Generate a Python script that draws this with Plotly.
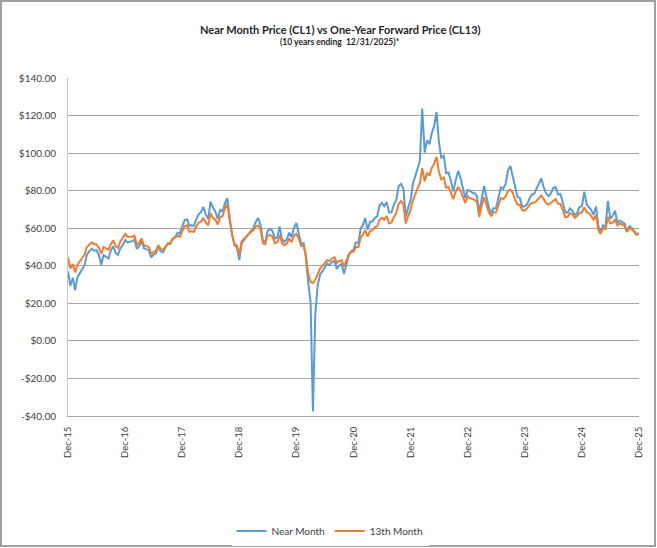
import calendar
from datetime import date

import plotly.graph_objects as go

# Semi-monthly observation dates: 15th and month end, Dec-2015 to Dec-2025
dates = [date(2015, 12, 31)]
for yr in range(2016, 2026):
    for mo in range(1, 13):
        dates.append(date(yr, mo, 15))
        dates.append(date(yr, mo, calendar.monthrange(yr, mo)[1]))

# Near month (CL1)
near_month = [
    37.0,
    # 2016
    29.4, 33.6, 27.0, 33.8, 36.3, 38.3, 40.4, 45.9, 47.7, 49.1, 48.0, 48.3,
    45.9, 40.5, 45.7, 44.7, 43.9, 48.2, 50.4, 46.9, 45.8, 49.4, 51.0, 53.7,
    # 2017
    52.4, 52.8, 53.1, 54.0, 48.9, 50.6, 53.2, 49.3, 48.8, 48.3, 44.5, 46.0,
    46.5, 50.2, 47.6, 47.2, 49.9, 51.7, 51.5, 54.4, 55.3, 57.4, 57.3, 60.4,
    # 2018
    64.3, 64.7, 61.3, 61.6, 61.2, 64.9, 67.4, 68.6, 71.3, 67.0, 65.1, 74.2,
    71.0, 68.8, 65.0, 69.8, 69.0, 73.3, 76.0, 65.3, 56.5, 50.9, 49.9, 43.0,
    # 2019
    52.1, 53.8, 55.6, 57.2, 58.5, 60.1, 63.4, 65.5, 62.0, 53.5, 52.5, 58.5,
    59.6, 58.6, 54.5, 55.1, 61.0, 54.1, 52.8, 54.2, 57.7, 55.2, 60.1, 62.8,
    # 2020
    57.8, 51.6, 52.1, 44.8, 31.7, 20.5, -37.6, 14.0, 29.4, 35.5, 37.1, 39.3,
    41.2, 40.3, 42.0, 42.6, 38.3, 40.2, 40.9, 35.8, 40.1, 45.3, 47.6, 48.5,
    # 2021
    52.4, 52.2, 60.0, 61.5, 65.4, 59.2, 63.5, 63.6, 65.4, 66.3, 72.1, 73.5,
    71.7, 73.9, 68.4, 68.5, 72.6, 75.0, 82.3, 83.6, 80.9, 66.2, 70.9, 75.2,
    # 2022
    83.8, 88.2, 92.1, 95.7, 123.7, 100.3, 106.9, 104.7, 110.5, 114.7, 121.9, 105.8,
    97.6, 98.6, 89.4, 89.6, 85.1, 79.5, 85.6, 90.5, 86.9, 80.6, 76.1, 80.3,
    # 2023
    79.9, 78.9, 78.6, 77.1, 68.4, 75.7, 82.5, 76.8, 71.1, 68.1, 70.6, 70.6,
    75.4, 81.8, 81.0, 83.6, 90.8, 93.2, 87.7, 81.0, 76.7, 76.0, 71.4, 71.7,
    # 2024
    72.7, 75.9, 78.0, 78.3, 81.0, 83.2, 86.5, 81.9, 78.6, 77.0, 78.5, 81.5,
    81.9, 77.9, 78.2, 73.6, 68.7, 68.2, 70.6, 69.3, 67.0, 68.0, 71.3, 71.7,
    # 2025
    79.5, 72.5, 70.7, 69.8, 67.2, 71.5, 61.3, 58.2, 61.6, 60.8, 74.5, 65.1,
    66.5, 69.3, 62.8, 64.0, 63.3, 62.4, 58.3, 61.0, 60.1, 58.6, 56.8, 57.4,
]

# 13th month (CL13)
month_13 = [
    44.5,
    # 2016
    38.5, 41.0, 36.5, 40.5, 42.5, 44.0, 46.0, 50.0, 51.0, 52.5, 51.5, 51.5,
    49.5, 46.5, 50.0, 49.0, 48.5, 51.5, 53.5, 50.5, 49.5, 53.0, 55.0, 57.0,
    # 2017
    55.5, 55.5, 55.5, 56.0, 51.0, 52.5, 54.5, 51.0, 50.5, 50.0, 46.5, 47.5,
    48.0, 51.0, 49.0, 48.5, 50.5, 52.0, 52.0, 54.5, 55.0, 56.0, 55.5, 58.0,
    # 2018
    61.0, 61.5, 58.0, 58.5, 58.0, 61.0, 63.0, 63.5, 65.5, 63.0, 61.5, 68.0,
    65.5, 64.5, 62.0, 66.0, 66.5, 70.5, 73.0, 64.0, 56.5, 51.5, 51.0, 46.0,
    # 2019
    53.0, 54.5, 55.5, 57.0, 58.0, 59.0, 61.0, 61.5, 59.5, 52.0, 51.5, 56.0,
    56.5, 55.5, 52.0, 52.5, 56.5, 52.0, 51.0, 52.0, 54.5, 52.5, 56.0, 57.0,
    # 2020
    54.5, 50.5, 51.0, 46.0, 36.0, 31.5, 30.7, 32.5, 35.5, 38.5, 40.0, 41.5,
    43.0, 42.5, 44.0, 44.5, 41.5, 42.5, 43.0, 39.5, 42.5, 46.0, 47.5, 47.5,
    # 2021
    50.0, 50.0, 55.0, 56.5, 59.0, 55.5, 58.5, 59.0, 60.5, 61.0, 64.5, 65.5,
    64.5, 66.5, 62.5, 63.0, 66.0, 68.0, 73.0, 74.5, 72.5, 62.5, 66.5, 70.0,
    # 2022
    75.0, 79.0, 81.5, 84.0, 92.0, 85.0, 89.5, 88.0, 92.0, 94.5, 98.0, 90.0,
    86.0, 87.0, 81.5, 82.0, 78.5, 75.5, 79.5, 82.0, 80.0, 76.5, 73.5, 77.0,
    # 2023
    76.0, 75.5, 75.0, 74.0, 66.0, 72.0, 76.5, 72.5, 68.5, 66.5, 68.5, 68.5,
    72.0, 76.0, 75.5, 77.0, 80.0, 80.5, 79.0, 75.0, 72.5, 72.5, 69.5, 69.5,
    # 2024
    70.5, 72.5, 73.5, 73.5, 74.5, 76.0, 77.5, 75.5, 73.5, 72.5, 73.5, 75.0,
    75.5, 73.0, 73.0, 69.5, 66.0, 66.0, 68.0, 67.5, 65.5, 66.5, 68.0, 68.5,
    # 2025
    71.0, 68.5, 68.0, 66.5, 64.5, 67.0, 59.0, 57.0, 60.0, 59.5, 66.0, 62.5,
    63.0, 64.5, 61.5, 62.5, 62.0, 61.0, 58.0, 60.0, 59.5, 58.0, 56.5, 57.0,
]

x_tick_dates = [date(y, 12, 31) for y in range(2015, 2026)]
x_tick_text = ["Dec-" + str(y)[2:] for y in range(2015, 2026)]
y_tick_vals = [-40, -20, 0, 20, 40, 60, 80, 100, 120, 140]
y_tick_text = ["-$40.00", "-$20.00", "$0.00", "$20.00", "$40.00", "$60.00",
               "$80.00", "$100.00", "$120.00", "$140.00"]

FONT = "Lato, 'Open Sans', sans-serif"
GRID = "#a6a6a6"

fig = go.Figure()

fig.add_trace(
    go.Scatter(
        x=dates,
        y=near_month,
        mode="lines",
        name="Near Month",
        line=dict(color="#5b9bd5", width=2),
    )
)

fig.add_trace(
    go.Scatter(
        x=dates,
        y=month_13,
        mode="lines",
        name="13th Month",
        line=dict(color="#ed7d31", width=2),
    )
)

# Plot area in pixels: x 68..639, y 78..416
L, R, T, B = 68, 639, 78, 416
W, H = R - L, B - T


def px(xp):
    return (xp - L) / W


def py(yp):
    return (B - yp) / H


fig.add_annotation(
    text="Near Month Price (CL1) vs One-Year Forward Price (CL13)",
    xref="paper", yref="paper", x=px(340), y=py(29),
    showarrow=False, xanchor="center", yanchor="middle",
    font=dict(family=FONT, size=11, color="#262626", weight="bold"),
)
fig.add_annotation(
    text="(10 years ending  12/31/2025)*",
    xref="paper", yref="paper", x=px(340), y=py(42),
    showarrow=False, xanchor="center", yanchor="middle",
    font=dict(family=FONT, size=8.5, color="#262626", weight="bold"),
)

# outer frame of the chart area
fig.add_shape(
    type="rect", xref="paper", yref="paper",
    x0=px(1), x1=px(655), y0=py(546), y1=py(1),
    line=dict(color="#a0a0a0", width=2),
    layer="below",
)

fig.update_layout(
    width=657,
    height=548,
    margin=dict(l=L, r=657 - R, t=T, b=548 - B, autoexpand=False),
    paper_bgcolor="white",
    plot_bgcolor="white",
    font=dict(family=FONT, size=10, color="#404040"),
    showlegend=True,
    legend=dict(
        orientation="h",
        x=px(330), xanchor="center",
        y=py(531), yanchor="middle",
        font=dict(family=FONT, size=10, color="#404040"),
        itemwidth=30,
        tracegroupgap=0,
    ),
    xaxis=dict(
        range=[date(2015, 12, 31), date(2025, 12, 31)],
        tickvals=x_tick_dates,
        ticktext=x_tick_text,
        tickangle=-90,
        tickfont=dict(size=9.5),
        showgrid=False,
        showline=True,
        linecolor=GRID,
        ticks="",
        ticklabelstandoff=6,
        zeroline=False,
    ),
    yaxis=dict(
        range=[-40, 140],
        tickvals=y_tick_vals,
        ticktext=y_tick_text,
        tickfont=dict(size=10),
        showgrid=True,
        gridcolor=GRID,
        gridwidth=1,
        showline=True,
        linecolor="#c8c8c8",
        zeroline=False,
        ticklabelstandoff=9,
    ),
)

# drop the browser's default body margin so the chart sits at the page origin
fig.write_html(
    "out.html",
    config={"displayModeBar": False},
    post_script="document.body.style.margin='0';",
)
